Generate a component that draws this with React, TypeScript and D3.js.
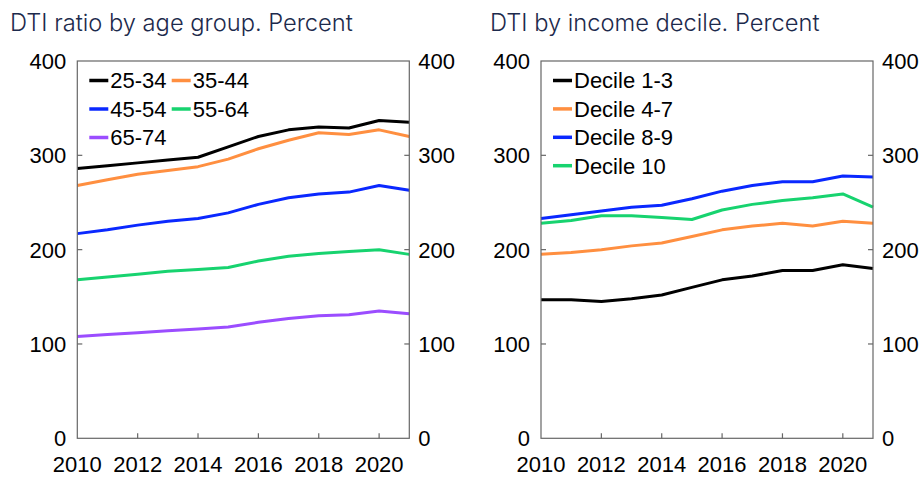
import React from "react";
import * as d3 from "d3";

const years = [2010, 2011, 2012, 2013, 2014, 2015, 2016, 2017, 2018, 2019, 2020, 2021];
const yearTicks = [2010, 2012, 2014, 2016, 2018, 2020];
const valueTicks = [0, 100, 200, 300, 400];

const ageNames = ["25-34", "35-44", "45-54", "55-64", "65-74"];
const ageColors = ["#000000", "#ff8f40", "#0a28ff", "#17d36f", "#9b4dff"];
const age2534 = [286, 289, 292, 295, 298, 309, 320, 327, 330, 329, 337, 335];
const age3544 = [268, 274, 280, 284, 288, 296, 307, 316, 324, 322, 327, 320];
const age4554 = [217, 221, 226, 230, 233, 239, 248, 255, 259, 261, 268, 263];
const age5564 = [168, 171, 174, 177, 179, 181, 188, 193, 196, 198, 200, 195];
const age6574 = [108, 110, 112, 114, 116, 118, 123, 127, 130, 131, 135, 132];

const decileNames = ["Decile 1-3", "Decile 4-7", "Decile 8-9", "Decile 10"];
const decileColors = ["#000000", "#ff8f40", "#0a28ff", "#17d36f"];
const decile13 = [147, 147, 145, 148, 152, 160, 168, 172, 178, 178, 184, 180];
const decile47 = [195, 197, 200, 204, 207, 214, 221, 225, 228, 225, 230, 228];
const decile89 = [233, 237, 241, 245, 247, 254, 262, 268, 272, 272, 278, 277];
const decile10 = [228, 231, 236, 236, 234, 232, 242, 248, 252, 255, 259, 245];

const width = 922;
const height = 477;
const top = 61;
const bottom = 438.3;
const font = "'Liberation Sans', Arial, sans-serif";
const frameColor = "#666";

interface PanelProps {
  left: number;
  titleX: number;
  title: string;
  names: string[];
  colors: string[];
  series: number[][];
  legendCols: number;
  legendColGap: number;
  legendRowGap: number;
}

const Panel = ({ left, titleX, title, names, colors, series, legendCols, legendColGap, legendRowGap }: PanelProps) => {
  const right = left + 332;
  const x = d3.scaleLinear().domain([2010, 2021]).range([left, right]);
  const y = d3.scaleLinear().domain([0, 400]).range([bottom, top]);
  const line = d3
    .line<number>()
    .x((_, i) => x(years[i]))
    .y((d) => y(d));

  return (
    <g>
      <text x={titleX} y={31} fontFamily="Inter, 'Noto Sans', sans-serif" fontWeight={300} fontSize={23.7} fill="#1d2a4c">
        {title}
      </text>

      {series.map((s, i) => (
        <path key={i} d={line(s) as string} fill="none" stroke={colors[i]} strokeWidth={3} strokeLinejoin="round" />
      ))}

      <rect x={left} y={top} width={right - left} height={bottom - top} fill="none" stroke={frameColor} strokeWidth={1.2} />

      {valueTicks.map((v) => (
        <g key={v}>
          {v > 0 && v < 400 && (
            <>
              <line x1={left} x2={left + 5} y1={y(v)} y2={y(v)} stroke={frameColor} strokeWidth={1.2} />
              <line x1={right - 5} x2={right} y1={y(v)} y2={y(v)} stroke={frameColor} strokeWidth={1.2} />
            </>
          )}
          <text x={left - 11} y={y(v)} dy="0.36em" textAnchor="end" fontFamily={font} fontSize={22}>
            {v}
          </text>
          <text x={right + 9} y={y(v)} dy="0.36em" textAnchor="start" fontFamily={font} fontSize={22}>
            {v}
          </text>
        </g>
      ))}

      {yearTicks.map((t) => (
        <g key={t}>
          {t > 2010 && <line x1={x(t)} x2={x(t)} y1={bottom} y2={bottom - 5} stroke={frameColor} strokeWidth={1.2} />}
          <text x={x(t)} y={472} textAnchor="middle" fontFamily={font} fontSize={22}>
            {t}
          </text>
        </g>
      ))}

      {names.map((n, i) => {
        const col = i % legendCols;
        const row = Math.floor(i / legendCols);
        const lx = left + 12 + col * legendColGap;
        const ly = top + 19.5 + row * legendRowGap;
        return (
          <g key={n}>
            <line x1={lx} x2={lx + 19} y1={ly} y2={ly} stroke={colors[i]} strokeWidth={3.5} />
            <text x={lx + 21} y={ly} dy="0.36em" fontFamily={font} fontSize={22}>
              {n}
            </text>
          </g>
        );
      })}
    </g>
  );
};

const App = () => {
  return (
    <svg width={width} height={height} style={{ position: "absolute", left: 0, top: 0, background: "#fff" }}>
      <Panel
        left={77.3}
        titleX={10}
        title="DTI ratio by age group. Percent"
        names={ageNames}
        colors={ageColors}
        series={[age2534, age3544, age4554, age5564, age6574]}
        legendCols={2}
        legendColGap={82.4}
        legendRowGap={28.5}
      />
      <Panel
        left={541}
        titleX={490}
        title="DTI by income decile. Percent"
        names={decileNames}
        colors={decileColors}
        series={[decile13, decile47, decile89, decile10]}
        legendCols={1}
        legendColGap={0}
        legendRowGap={28.4}
      />
    </svg>
  );
};

export default App;
